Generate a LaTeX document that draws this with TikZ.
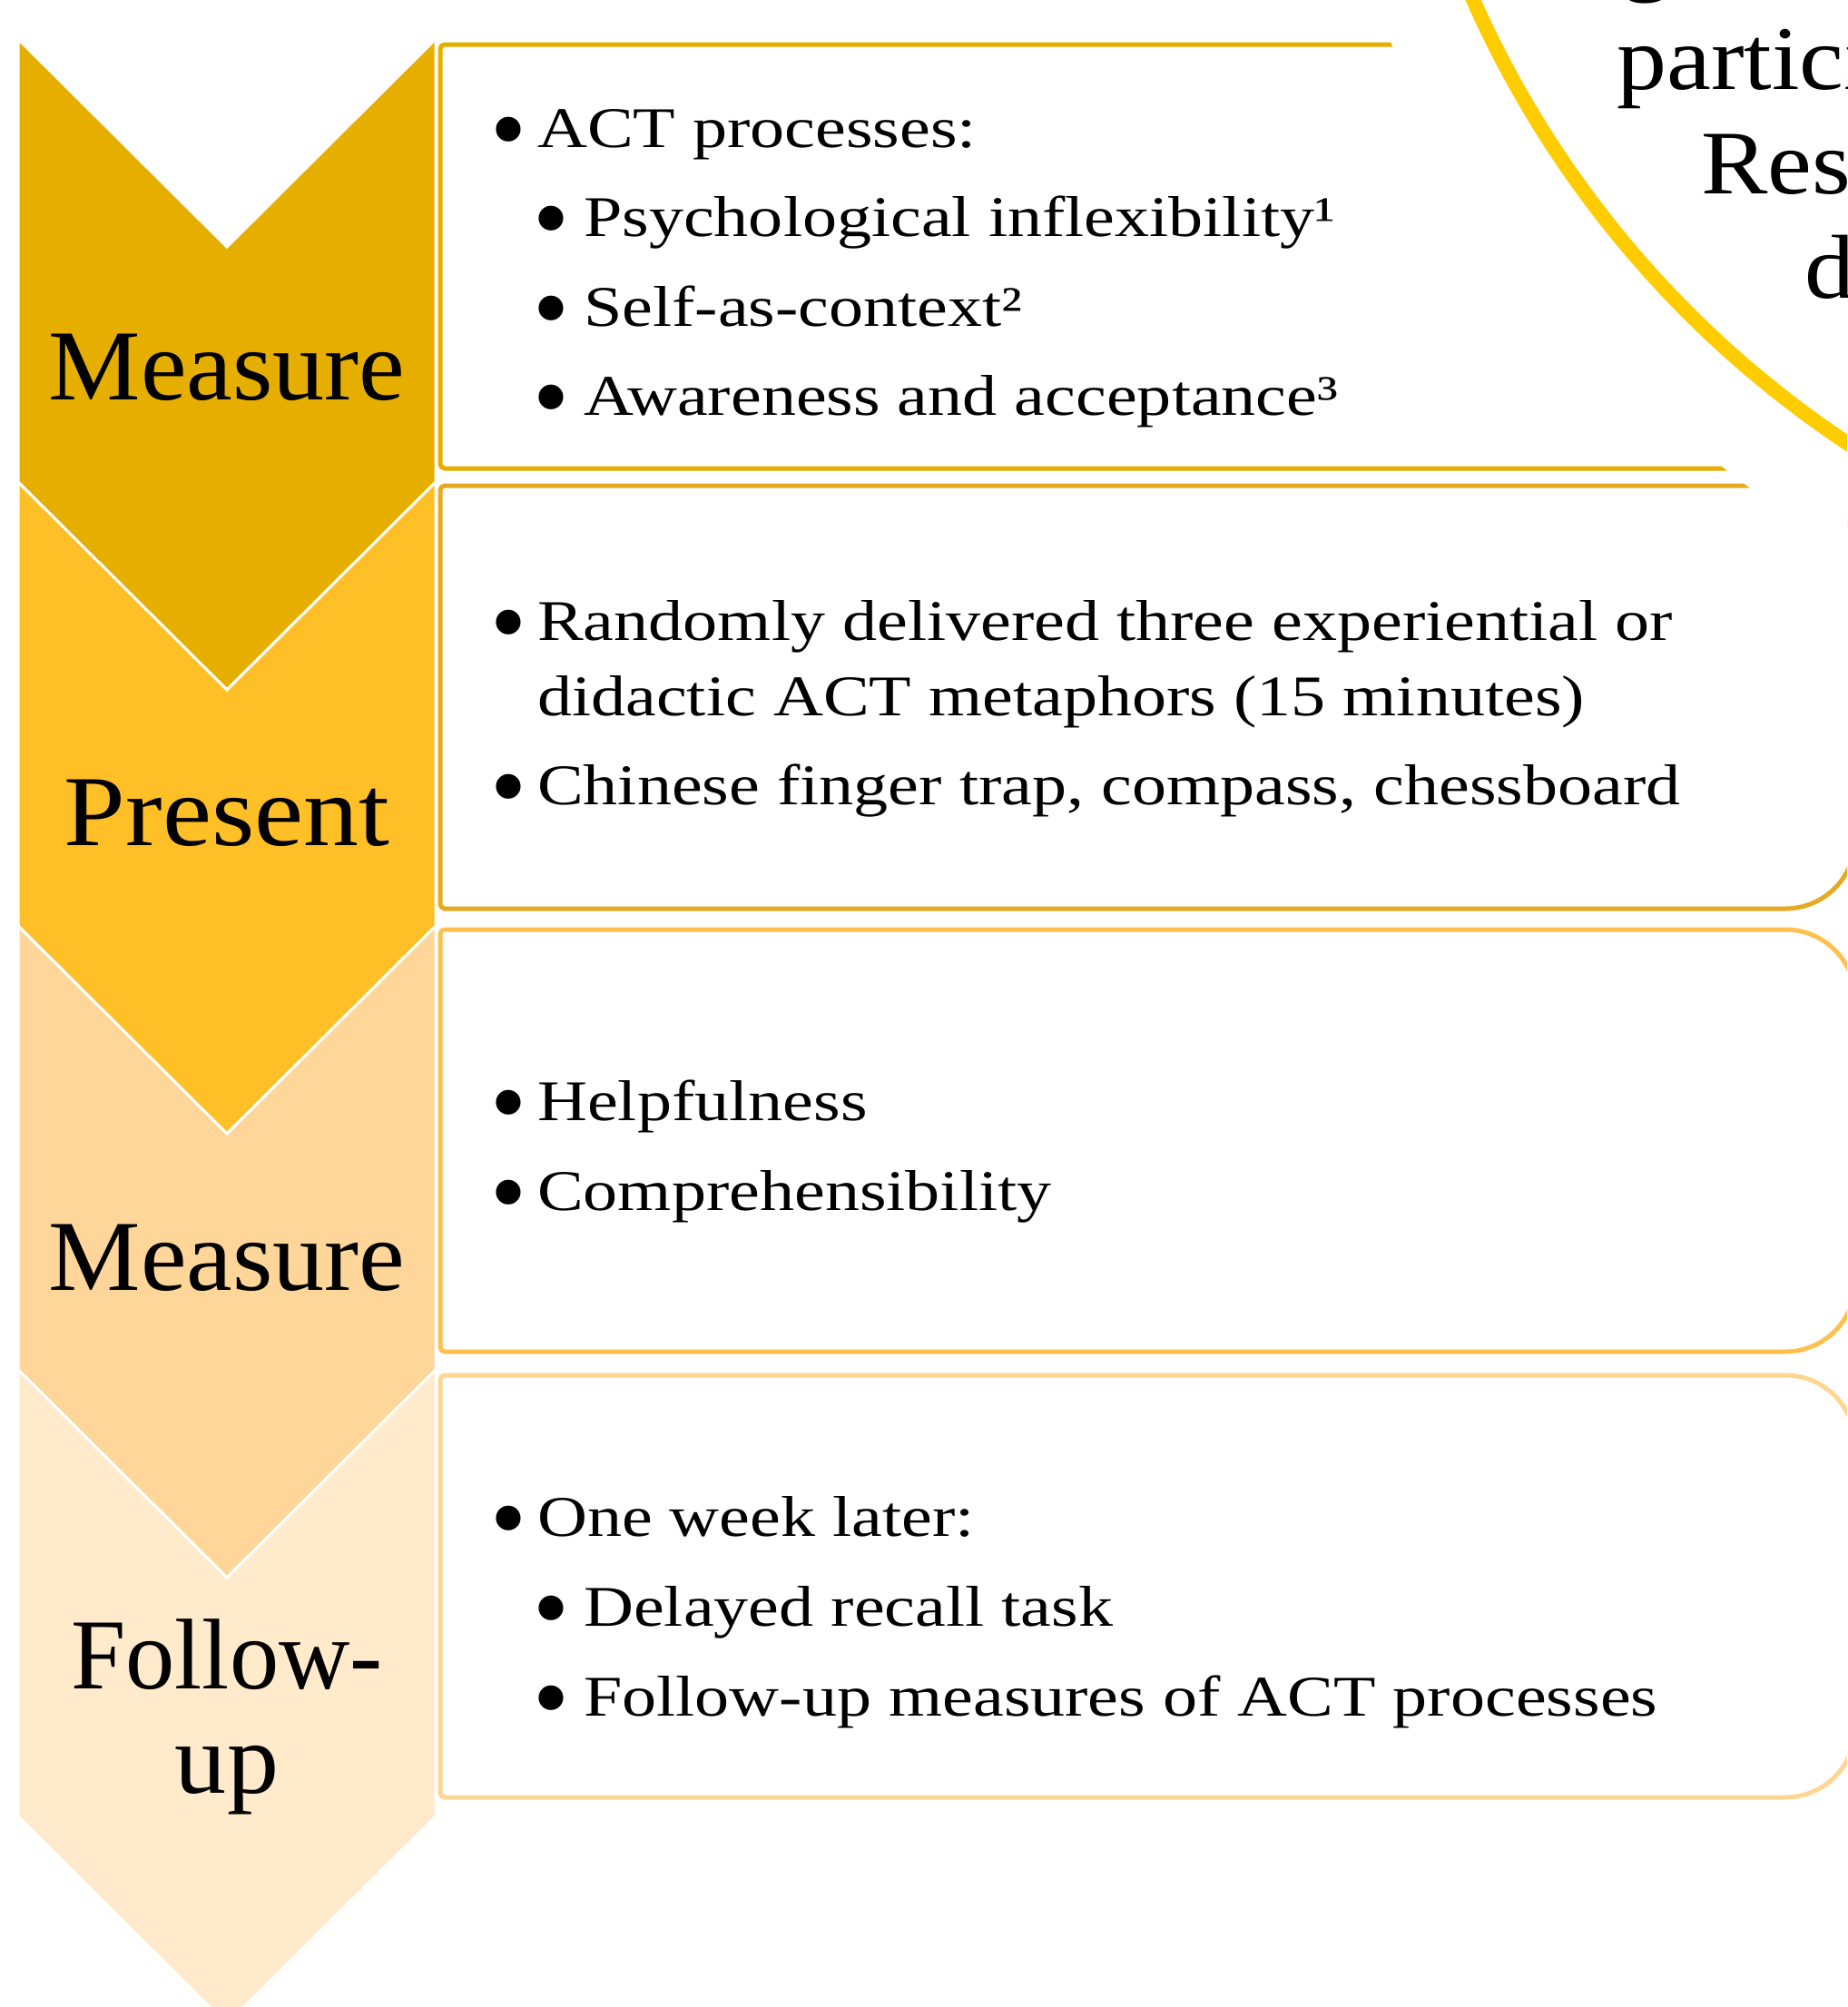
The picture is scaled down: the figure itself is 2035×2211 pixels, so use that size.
\documentclass[tikz,border=0pt]{standalone}
\usepackage{fontspec}
\newfontfamily\bodyfont[FakeStretch=1.2]{Liberation Serif}
\newfontfamily\stagefont[FakeStretch=1.03]{Liberation Serif}
\newfontfamily\stagefontwide[FakeStretch=1.1]{Liberation Serif}
\newfontfamily\stagefontnarrow[FakeStretch=0.98]{Liberation Serif}
\newfontfamily\circfont[FakeStretch=1.1]{Liberation Serif}
\newfontfamily\dotfont{Liberation Serif}
\definecolor{chevA}{RGB}{230,175,0}
\definecolor{chevB}{RGB}{255,191,38}
\definecolor{chevC}{RGB}{255,214,153}
\definecolor{chevD}{RGB}{255,234,204}
\definecolor{boxA}{RGB}{230,175,0}
\definecolor{boxB}{RGB}{230,170,34}
\definecolor{boxC}{RGB}{255,192,77}
\definecolor{boxD}{RGB}{255,213,146}
\definecolor{ringcol}{RGB}{255,204,0}
\begin{document}
\begin{tikzpicture}[x=1pt,y=-1pt,
  chev/.style={fill=#1, draw=white, line width=3pt, line join=miter},
  panel/.style={draw=#1, line width=5pt, fill=white},
  stage/.style={inner sep=0pt, anchor=base, font=\stagefont\fontsize{110.7}{116}\selectfont},
  item/.style={inner sep=0pt, anchor=base west, font=\bodyfont\fontsize{63.4}{70}\selectfont},
  dot/.style={inner sep=0pt, anchor=base, font=\dotfont\fontsize{114}{120}\selectfont},
  ctext/.style={inner sep=0pt, anchor=base west, font=\circfont\fontsize{100}{110}\selectfont}]
\useasboundingbox (0,0) rectangle (2035,2211);
\clip (0,0) rectangle (2035,2211);

% chevrons
\path[chev=chevA] (20,43) -- (250,272) -- (480,43) -- (480,531) -- (250,760) -- (20,531) -- cycle;
\path[chev=chevB] (20,531) -- (250,760) -- (480,531) -- (480,1020) -- (250,1249) -- (20,1020) -- cycle;
\path[chev=chevC] (20,1020) -- (250,1249) -- (480,1020) -- (480,1509) -- (250,1738) -- (20,1509) -- cycle;
\path[chev=chevD] (20,1509) -- (250,1738) -- (480,1509) -- (480,2001) -- (250,2230) -- (20,2001) -- cycle;

% stage labels
\node[stage] (s1) at (250,440) {Measure};
\node[stage, font=\stagefontwide\fontsize{110.7}{116}\selectfont] (s2) at (250,931) {Present};
\node[stage] (s3) at (250,1421) {Measure};
\node[stage, font=\stagefontnarrow\fontsize{110.7}{116}\selectfont] (s4a) at (250,1860) {Follow-};
\node[stage] (s4b) at (250,1975) {up};

% panels
\draw[panel=boxA, rounded corners=5pt] (1300,49) -- (485,49) -- (485,516) -- (1300,516) [rounded corners=77pt] -- (2044,516) -- (2044,49) -- cycle;
\draw[panel=boxB, rounded corners=5pt] (1300,535) -- (485,535) -- (485,1001) -- (1300,1001) [rounded corners=77pt] -- (2044,1001) -- (2044,535) -- cycle;
\draw[panel=boxC, rounded corners=5pt] (1300,1024) -- (485,1024) -- (485,1489) -- (1300,1489) [rounded corners=77pt] -- (2044,1489) -- (2044,1024) -- cycle;
\draw[panel=boxD, rounded corners=5pt] (1300,1515) -- (485,1515) -- (485,1980) -- (1300,1980) [rounded corners=77pt] -- (2044,1980) -- (2044,1515) -- cycle;

% result circle with its white margin
\fill[white] (2665,-461) circle[radius=1241pt];
\draw[ringcol, line width=16pt] (2665,-461) circle[radius=1139pt];
\node[ctext] (c0) at (1786,-17) {g};
\node[ctext] (c1) at (1781,98) {partici};
\node[ctext] (c2) at (1874,213) {Resu};
\node[ctext] (c3) at (1988,328) {d};

% panel 1
\node[dot] (b11) at (560,180) {•};
\node[item] (t11) at (592,162) {ACT processes:};
\node[dot] (b12) at (607,278) {•};
\node[item] (t12) at (643,260) {Psychological inflexibility¹};
\node[dot] (b13) at (607,377) {•};
\node[item] (t13) at (643,359) {Self-as-context²};
\node[dot] (b14) at (607,475) {•};
\node[item] (t14) at (643,457) {Awareness and acceptance³};

% panel 2
\node[dot] (b21) at (560,723) {•};
\node[item] (t21) at (592,705) {Randomly delivered three experiential or};
\node[item] (t22) at (592,788) {didactic ACT metaphors (15 minutes)};
\node[dot] (b23) at (560,904) {•};
\node[item] (t23) at (592,886) {Chinese finger trap, compass, chessboard};

% panel 3
\node[dot] (b31) at (560,1252) {•};
\node[item] (t31) at (592,1234) {Helpfulness};
\node[dot] (b32) at (560,1351) {•};
\node[item] (t32) at (592,1333) {Comprehensibility};

% panel 4
\node[dot] (b41) at (560,1710) {•};
\node[item] (t41) at (592,1692) {One week later:};
\node[dot] (b42) at (607,1809) {•};
\node[item] (t42) at (643,1791) {Delayed recall task};
\node[dot] (b43) at (607,1908) {•};
\node[item] (t43) at (643,1890) {Follow-up measures of ACT processes};
\end{tikzpicture}
\end{document}
